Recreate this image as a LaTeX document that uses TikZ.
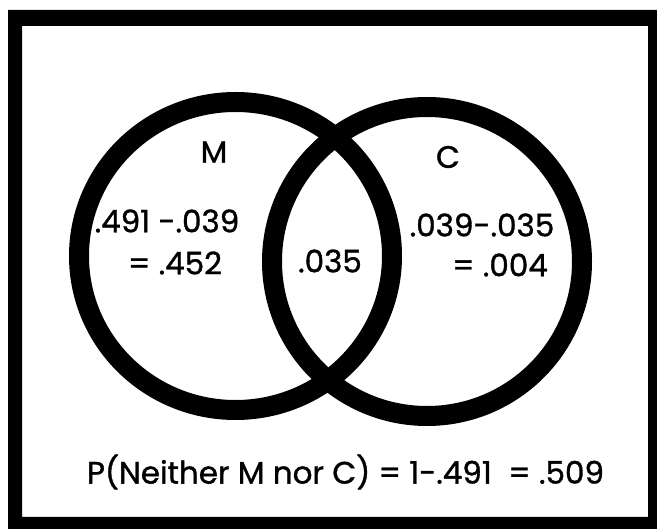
\documentclass[tikz,border=0pt]{standalone}
\usepackage{fontspec}
\setmainfont{Poppins}[FakeBold=1.1]
\usetikzlibrary{shapes.geometric}
\begin{document}
\begin{tikzpicture}[x=1pt,y=-1pt,
  venn/.style={ellipse,draw=black,line width=20pt,inner sep=0pt},
  lbl/.style={inner sep=0pt,font=\fontsize{31}{33}\selectfont,align=center}]
\useasboundingbox (0,0) rectangle (657,529);
\fill[white] (0,0) rectangle (657,529);
\fill[black,even odd rule] (8,10) rectangle (657,529) (22,26) rectangle (648,517);
\node[venn,minimum width=313pt,minimum height=308pt] (M) at (235.5,256) {};
\node[venn,minimum width=310pt,minimum height=309pt] (C) at (427,261.5) {};
\node[lbl] (mlab) at (214,152) {M};
\node[lbl] (clab) at (448,157) {C};
\node[lbl] (m1) at (167,221) {.491 -.039};
\node[lbl] (m2) at (175,263) {= .452};
\node[lbl] (mc) at (330,261) {.035};
\node[lbl] (c1) at (482,225) {.039-.035};
\node[lbl] (c2) at (500,265) {= .004};
\node[lbl] (neither) at (345.5,472) {P(Neither M nor C) = 1-.491 \ = .509};
\end{tikzpicture}
\end{document}
